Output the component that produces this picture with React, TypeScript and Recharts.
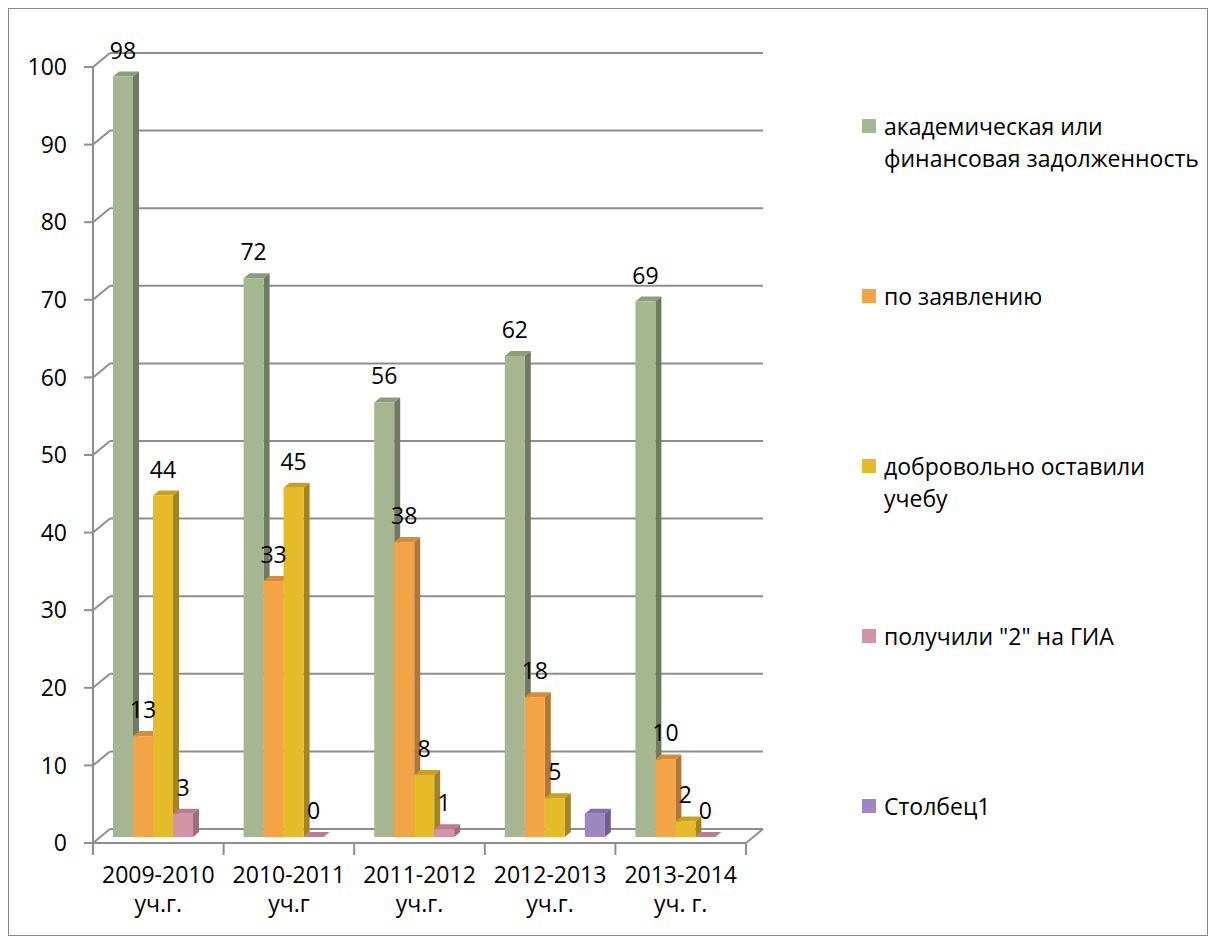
import React from 'react';
import { BarChart, Bar, XAxis, YAxis, CartesianGrid, Legend, LabelList } from 'recharts';

// school years (first word = year, rest = second line)
const years = ['2009-2010 уч.г.', '2010-2011 уч.г', '2011-2012 уч.г.', '2012-2013 уч.г.', '2013-2014 уч. г.'];
const academic = [98, 72, 56, 62, 69];
const byRequest = [13, 33, 38, 18, 10];
const voluntary = [44, 45, 8, 5, 2];
const failedGia = [3, 0, 1, null, 0];
const column1 = [null, null, null, 3, null];
const yTicks = [0, 10, 20, 30, 40, 50, 60, 70, 80, 90, 100];

const series = [
    { key: 'academic', name: 'академическая или финансовая задолженность', values: academic, color: '#A6B691', side: '#6F7B5F', top: '#8D9C7A', labels: true },
    { key: 'byRequest', name: 'по заявлению', values: byRequest, color: '#F3A447', side: '#B57632', top: '#D88B38', labels: true },
    { key: 'voluntary', name: 'добровольно оставили учебу', values: voluntary, color: '#E6BB2A', side: '#A3841D', top: '#C9A021', labels: true },
    { key: 'failedGia', name: 'получили "2" на ГИА', values: failedGia, color: '#D494A8', side: '#A16A7D', top: '#B97C90', labels: true },
    { key: 'column1', name: 'Столбец1', values: column1, color: '#9D86C2', side: '#6F5C93', top: '#8470A8', labels: false },
];

const data = years.map((year, i) => {
    const row: any = { year };
    series.forEach(s => { row[s.key] = s.values[i]; });
    return row;
});

const FONT = '"Open Sans", "Noto Sans", sans-serif';
const CHART_W = 1198;
const CHART_H = 926;
const MARGIN = { top: 58, right: 124, bottom: 0, left: 20 };
const Y_AXIS_W = 64;
const X_AXIS_H = 92;
const LEGEND_W = 337;
const AXIS_Y = CHART_H - X_AXIS_H;
const PLOT_W = CHART_W - MARGIN.left - Y_AXIS_W - MARGIN.right - LEGEND_W;
const BAND = PLOT_W / years.length;

// 3d look: back wall offset, bar plane offset, bar depth
const WALL_X = 17;
const WALL_Y = 14;
const BAR_DX = 5;
const BAR_DY = -6;
const DEPTH_X = 6;
const DEPTH_Y = 5;
const GRID = '#8E8E8E';

function makeShape(s: any) {
    return (props: any) => {
        const { x, y, width, height, payload } = props;
        if (payload == null || payload[s.key] == null) return null;
        const fx = x + BAR_DX;
        const fy = y + BAR_DY;
        return (
            <g>
                <polygon
                    points={`${fx},${fy} ${fx + DEPTH_X},${fy - DEPTH_Y} ${fx + width + DEPTH_X},${fy - DEPTH_Y} ${fx + width},${fy}`}
                    fill={s.top}
                />
                <polygon
                    points={`${fx + width},${fy} ${fx + width + DEPTH_X},${fy - DEPTH_Y} ${fx + width + DEPTH_X},${fy + height - DEPTH_Y} ${fx + width},${fy + height}`}
                    fill={s.side}
                />
                <rect x={fx} y={fy} width={width} height={height} fill={s.color} />
            </g>
        );
    };
}

const renderLabel = (props: any) => {
    const { x, y, width, value } = props;
    if (value == null) return null;
    return (
        <text
            x={x + width / 2 + BAR_DX}
            y={y + BAR_DY - 18}
            textAnchor="middle"
            fontSize={23}
            fontFamily={FONT}
            fill="#000"
        >
            {value}
        </text>
    );
};

const gridLine = (p: any) => {
    const { x1, y1, x2 } = p;
    return (
        <g key={p.key}>
            <line x1={x1} y1={y1} x2={x1 + WALL_X} y2={y1 - WALL_Y} stroke={GRID} strokeWidth={2} />
            <line x1={x1 + WALL_X} y1={y1 - WALL_Y} x2={x2 + WALL_X} y2={y1 - WALL_Y} stroke={GRID} strokeWidth={2} />
        </g>
    );
};

const XTick = (props: any) => {
    const { x, payload, index } = props;
    const label: string = payload.value;
    const cut = label.indexOf(' ');
    const line1 = label.slice(0, cut);
    const line2 = label.slice(cut + 1);
    const half = BAND / 2;
    const last = index === years.length - 1;
    return (
        <g>
            <line x1={x - half} y1={AXIS_Y} x2={x - half} y2={AXIS_Y + 12} stroke={GRID} strokeWidth={2} />
            {last && (
                <>
                    <line x1={x + half} y1={AXIS_Y} x2={x + half} y2={AXIS_Y + 12} stroke={GRID} strokeWidth={2} />
                    <line x1={x + half} y1={AXIS_Y} x2={x + half + WALL_X} y2={AXIS_Y - WALL_Y} stroke={GRID} strokeWidth={2} />
                </>
            )}
            <text x={x} y={AXIS_Y + 40} textAnchor="middle" fontSize={23} fontFamily={FONT} fill="#000">{line1}</text>
            <text x={x} y={AXIS_Y + 69} textAnchor="middle" fontSize={23} fontFamily={FONT} fill="#000">{line2}</text>
        </g>
    );
};

// legend keeps the series order
const renderLegend = () => (
    <div style={{ fontFamily: FONT, fontSize: 23, lineHeight: '32px', color: '#000' }}>
        {series.map(s => (
            <div key={s.key} style={{ height: 170, display: 'flex', alignItems: 'flex-start' }}>
                <span style={{ width: 14, height: 14, background: s.color, marginTop: 9, marginRight: 8, flexShrink: 0 }} />
                <span style={{ width: 315 }}>{s.name}</span>
            </div>
        ))}
    </div>
);

export default function App() {
    return (
        <div style={{ width: CHART_W, height: CHART_H, border: '1px solid #8A8A8A', background: '#fff' }}>
            <BarChart
                width={CHART_W}
                height={CHART_H}
                data={data}
                margin={MARGIN}
                barGap={0}
                barSize={20}
            >
                <CartesianGrid horizontal={gridLine} vertical={false} />
                <XAxis
                    dataKey="year"
                    height={X_AXIS_H}
                    interval={0}
                    tickLine={false}
                    tickSize={0}
                    tickMargin={0}
                    axisLine={{ stroke: GRID, strokeWidth: 2 }}
                    tick={<XTick />}
                />
                <YAxis
                    width={Y_AXIS_W}
                    domain={[0, 100]}
                    ticks={yTicks}
                    interval={0}
                    tickSize={9}
                    tickMargin={17}
                    axisLine={{ stroke: GRID, strokeWidth: 2 }}
                    tickLine={{ stroke: GRID, strokeWidth: 2 }}
                    tick={{ fontSize: 23, fill: '#000', fontFamily: FONT }}
                />
                <Legend
                    layout="vertical"
                    align="right"
                    verticalAlign="top"
                    content={renderLegend}
                    wrapperStyle={{ top: 101, left: 853, right: 'auto', width: LEGEND_W }}
                />
                {series.map(s => (
                    <Bar
                        key={s.key}
                        dataKey={s.key}
                        name={s.name}
                        fill={s.color}
                        shape={makeShape(s)}
                        isAnimationActive={false}
                    >
                        {s.labels && <LabelList dataKey={s.key} content={renderLabel} />}
                    </Bar>
                ))}
            </BarChart>
        </div>
    );
}
